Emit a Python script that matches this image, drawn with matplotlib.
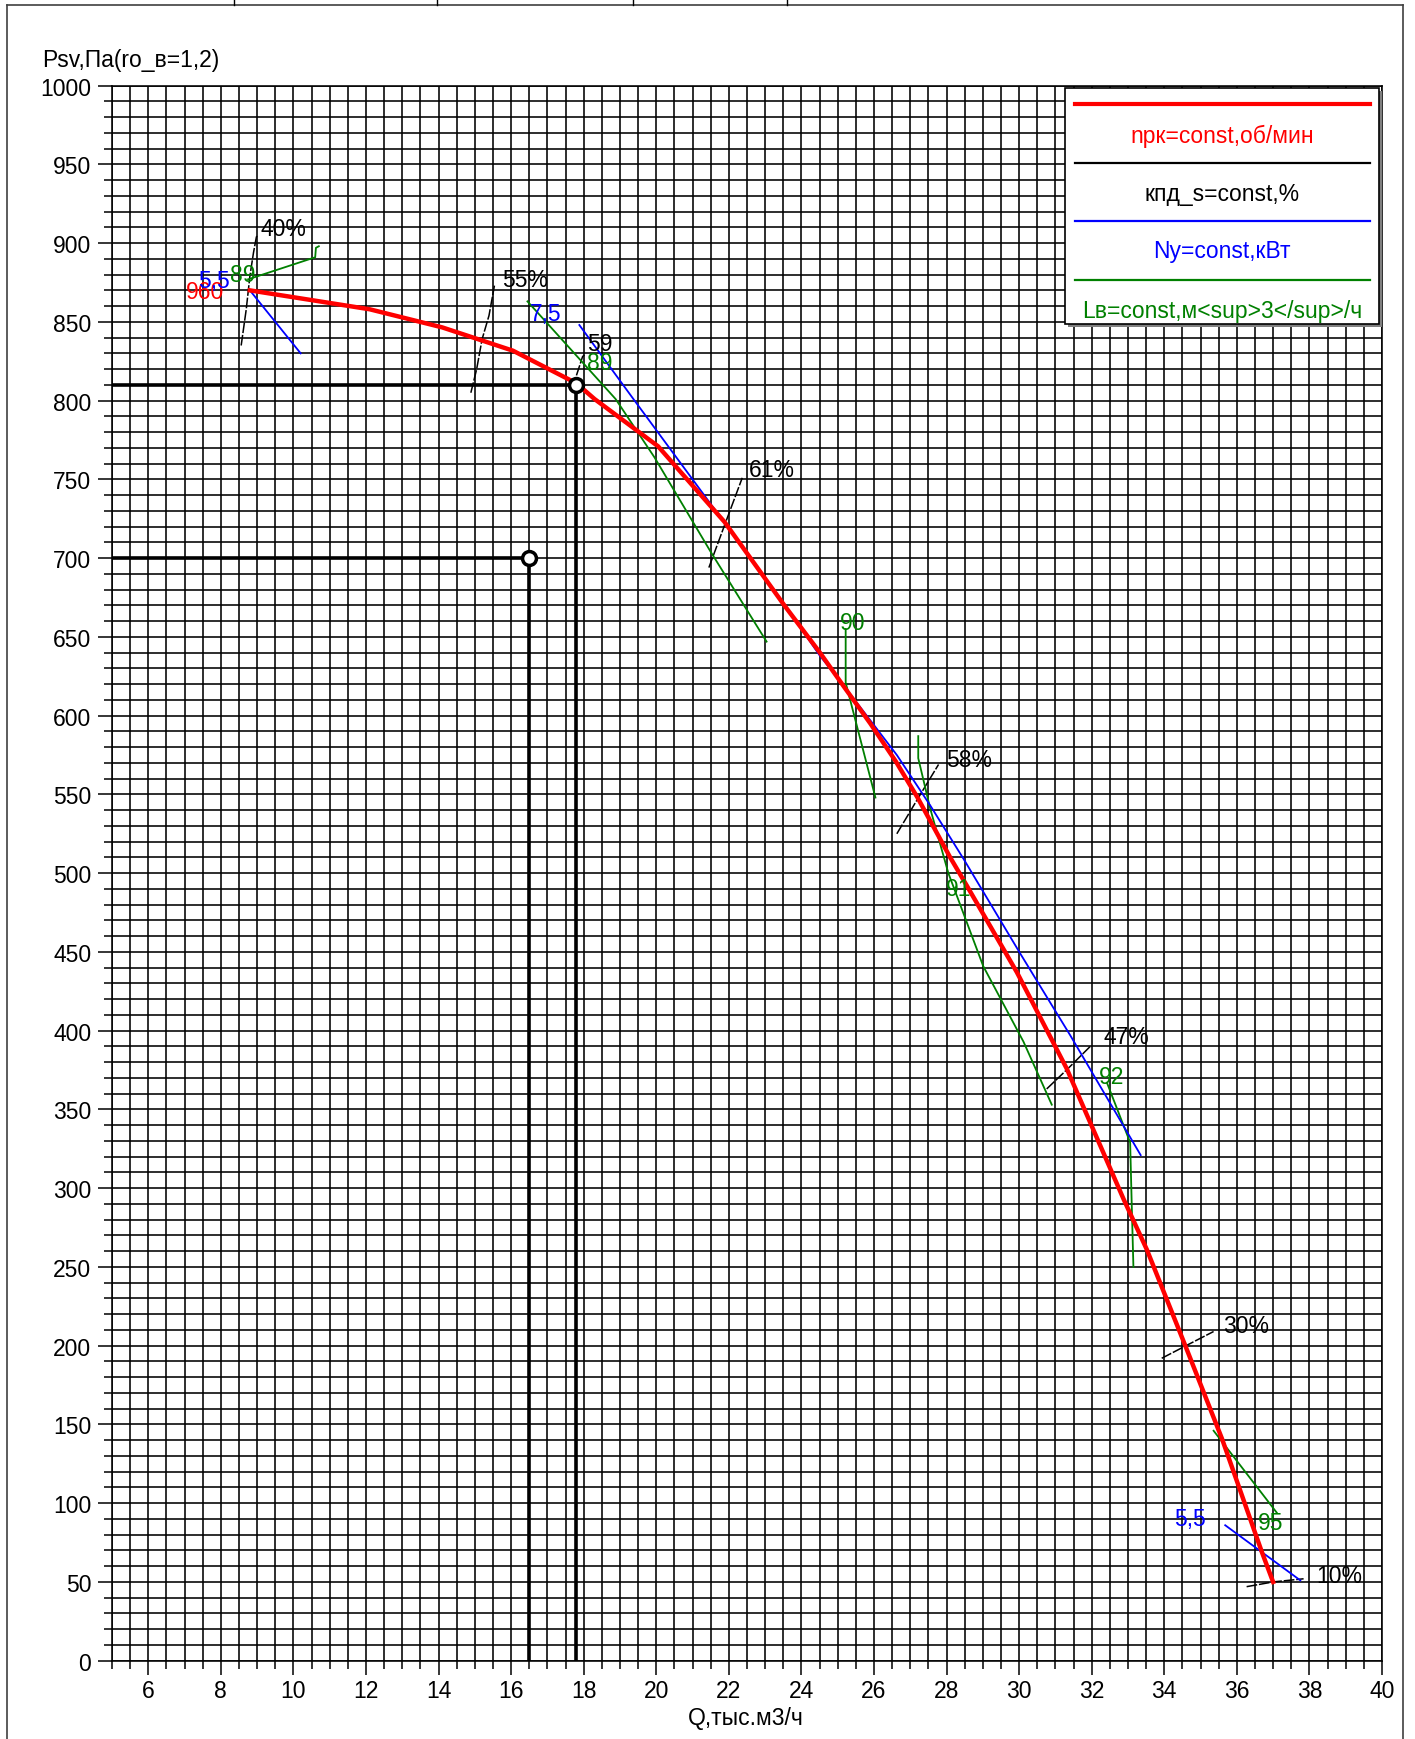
import matplotlib
matplotlib.use('Agg')
import matplotlib.pyplot as plt
import numpy as np
from matplotlib.patches import Rectangle
from matplotlib.lines import Line2D

plt.rcParams['font.family'] = ['Liberation Sans', 'DejaVu Sans']
FS = 16.5

# ---------------- data ----------------
# fan curve n = const (red)
red_q = [8.8, 12.1, 14.1, 16.05, 17.8, 18.3, 20.05, 21.88, 23.53, 24.51, 25.2, 25.9, 26.6,
         27.2, 28.1, 28.56, 29.94, 31.31, 32.88, 33.52, 34.58, 35.59, 36.69, 37.0]
red_p = [870, 858, 846.5, 831.7, 811, 801, 771, 723, 670, 640, 617.5, 595, 571,
         548, 510, 492, 437, 376, 293, 261, 200, 141, 69, 50]

# power lines N = const (blue)
blue1_q = [8.8, 10.2]
blue1_p = [870, 830]
blue2_q = [17.88, 19.37, 21.4, 23.43, 24.51, 25.07, 26.63, 27.55, 28.47, 30.03, 31.41, 33.35]
blue2_p = [848, 801, 737.5, 674, 638, 622, 575, 543, 509, 449, 397, 321]
blue3_q = [35.68, 37.75]
blue3_p = [86, 51]

# noise lines L = const (green)
green1_q = [8.75, 10.6, 10.62, 10.7]
green1_p = [877, 891, 897, 898]
green2_q = [16.45, 18.88, 19.95, 21.5, 23.04]
green2_p = [863, 801, 764, 704, 647]
green3_q = [25.22, 25.22, 26.04]
green3_p = [655, 621, 548]
green4_q = [27.22, 27.22, 27.55, 28.05, 29.01, 30.12, 30.9]
green4_p = [587, 573, 541, 500, 441, 393, 353]
green5_q = [32.42, 33.06, 33.1, 33.15]
green5_p = [367, 329, 293, 250]
green6_q = [35.36, 37.1]
green6_p = [146, 94]

# efficiency lines (black)
eff40_q = [8.56, 8.70, 8.80, 8.90, 8.98, 9.05]
eff40_p = [835, 858, 879, 894, 904, 905]
eff55_q = [14.89, 15.05, 15.2, 15.39, 15.54]
eff55_p = [805, 820, 839, 854, 873]
eff59_q = [17.8, 17.97, 18.02]
eff59_p = [816, 828, 829]
eff61_q = [21.45, 21.9, 22.37]
eff61_p = [694, 722, 751]
eff58_q = [26.63, 27.2, 27.78]
eff58_p = [525, 547, 569]
eff47_q = [30.76, 31.35, 31.96]
eff47_p = [363, 376, 390]
eff30_q = [33.93, 34.6, 35.36]
eff30_p = [192, 200, 209]
eff10_q = [36.27, 37.0, 37.84]
eff10_p = [47, 50, 52]

# black labels (left aligned)
eff_labels = ['40%', '55%', '59', '61%', '58%', '47%', '30%', '10%']
eff_label_q = [9.08, 15.75, 18.1, 22.56, 28.0, 32.32, 35.63, 38.2]
eff_label_p = [909, 877, 836, 756, 572, 396, 213, 54]

# coloured labels (centred)
col_labels = ['960', '5,5', '89', '7,5', '89', '90', '91', '92', '5,5', '95']
col_label_q = [7.55, 7.8, 8.6, 16.95, 18.43, 25.41, 28.33, 32.55, 34.71, 36.92]
col_label_p = [869, 876, 880, 855, 824, 659, 490, 371, 90, 88]
col_label_c = ['red', 'blue', 'green', 'blue', 'green', 'green', 'green', 'green', 'blue', 'green']

# operating points
op_q = [16.5, 17.8]
op_p = [700, 810]

# axes ticks
x_major = np.arange(6, 41, 2)
y_major = np.arange(0, 1001, 50)

legend_texts = ['nрк=const,об/мин', 'кпд_s=const,%', 'Nу=const,кВт', 'Lв=const,м<sup>3</sup>/ч']
legend_colors = ['red', 'black', 'blue', 'green']

GREEN = '#008000'
BLUE = '#0000ff'
RED = '#ff0000'
cmap = {'red': RED, 'blue': BLUE, 'green': GREEN, 'black': 'black'}

# ---------------- figure ----------------
fig = plt.figure(figsize=(14.15, 17.40), dpi=100)
ax = fig.add_axes([0.07915, 0.0450, 0.8975, 0.90523])
ax.set_xlim(5, 40)
ax.set_ylim(0, 1000)

ax.set_xticks(x_major)
ax.set_xticks(np.arange(5, 40.01, 0.5), minor=True)
ax.set_yticks(y_major)
ax.set_yticks(np.arange(0, 1001, 10), minor=True)
ax.tick_params(which='major', direction='out', length=10, width=1.1, labelsize=FS, pad=3)
ax.tick_params(which='minor', direction='out', length=5.5, width=1.1)
ax.tick_params(axis='y', which='major', pad=5)
ax.grid(which='both', color='black', linewidth=1.15)
ax.set_axisbelow(True)
for s in ax.spines.values():
    s.set_linewidth(1.15)
    s.set_color('black')

# operating point guide lines
for q, p in zip(op_q, op_p):
    ax.plot([5, q], [p, p], color='black', lw=2.6, zorder=3, solid_capstyle='butt')
    ax.plot([q, q], [0, p], color='black', lw=2.6, zorder=3, solid_capstyle='butt')

# efficiency lines
dash = (0, (7, 1.2))
for qs, ps in [(eff40_q, eff40_p), (eff55_q, eff55_p), (eff59_q, eff59_p), (eff61_q, eff61_p),
               (eff58_q, eff58_p), (eff47_q, eff47_p), (eff30_q, eff30_p), (eff10_q, eff10_p)]:
    ax.plot(qs, ps, color='black', lw=1.1, linestyle=dash, zorder=4)

# green lines
for qs, ps in [(green1_q, green1_p), (green2_q, green2_p), (green3_q, green3_p),
               (green4_q, green4_p), (green5_q, green5_p), (green6_q, green6_p)]:
    ax.plot(qs, ps, color=GREEN, lw=1.3, zorder=4)

# blue lines
for qs, ps in [(blue1_q, blue1_p), (blue2_q, blue2_p), (blue3_q, blue3_p)]:
    ax.plot(qs, ps, color=BLUE, lw=1.3, zorder=4)

# red fan curve
ax.plot(red_q, red_p, color=RED, lw=3.2, zorder=5, solid_joinstyle='round')

# operating point markers
ax.plot(op_q, op_p, linestyle='none', marker='o', markersize=10, markerfacecolor='white',
        markeredgecolor='black', markeredgewidth=2.5, zorder=6)

# labels
for t, q, p in zip(eff_labels, eff_label_q, eff_label_p):
    ax.text(q, p, t, color='black', fontsize=FS, ha='left', va='center', zorder=7)
for t, q, p, c in zip(col_labels, col_label_q, col_label_p, col_label_c):
    ax.text(q, p, t, color=cmap[c], fontsize=FS, ha='center', va='center', zorder=7)

# legend box (drawn manually in axes fraction)
lx0, lx1, ly0, ly1 = 0.7506, 0.9977, 0.8486, 0.9984
ax.add_patch(Rectangle((lx0 + 0.0024, ly0 - 0.0019), lx1 - lx0, ly1 - ly0, transform=ax.transAxes,
                       facecolor='#808080', edgecolor='none', zorder=8))
ax.add_patch(Rectangle((lx0, ly0), lx1 - lx0, ly1 - ly0, transform=ax.transAxes,
                       facecolor='white', edgecolor='black', lw=1.2, zorder=9))
line_y = [0.9883, 0.9509, 0.9142, 0.8768]
text_y = [0.9682, 0.9315, 0.8952, 0.8570]
line_w = [3.0, 1.6, 1.6, 1.6]
for ly, ty, lw, txt, c in zip(line_y, text_y, line_w, legend_texts, legend_colors):
    ax.add_line(Line2D([0.7586, 0.9906], [ly, ly], transform=ax.transAxes, color=cmap[c],
                       lw=lw, zorder=10))
    ax.text((lx0 + lx1) / 2, ty, txt, transform=ax.transAxes, color=cmap[c], fontsize=FS,
            ha='center', va='center', zorder=10)

# axis titles
fig.text(0.0297, 0.965, 'Psv,Па(ro_в=1,2)', fontsize=FS, ha='left', va='center')
fig.text(0.527, 0.0126, 'Q,тыс.м3/ч', fontsize=FS, ha='center', va='center')

# outer frame and cut table header
fr = '#404040'
fig.add_artist(Line2D([0.005, 0.9915], [0.9965, 0.9965], transform=fig.transFigure, color=fr, lw=1.2))
fig.add_artist(Line2D([0.005, 0.005], [0.0, 0.9965], transform=fig.transFigure, color=fr, lw=1.2))
fig.add_artist(Line2D([0.9915, 0.9915], [0.0, 0.9965], transform=fig.transFigure, color=fr, lw=1.2))
for xp in [234, 437, 633, 787]:
    fig.add_artist(Line2D([xp / 1415, xp / 1415], [0.9965, 1.0], transform=fig.transFigure,
                          color='black', lw=1.0))

fig.savefig('out.png', dpi=100, facecolor='white')
